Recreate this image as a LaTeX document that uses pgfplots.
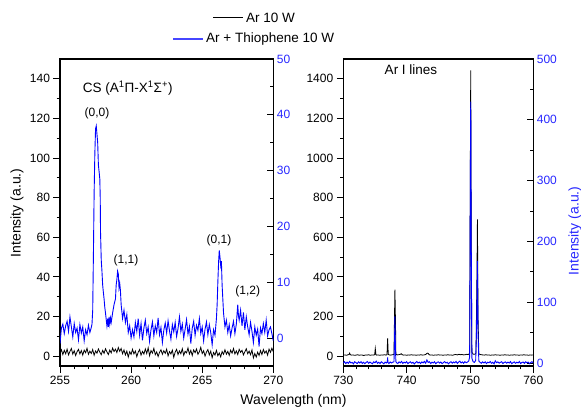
\documentclass[border=0pt]{standalone}
\usepackage{fontspec}
\setmainfont{Liberation Sans}
\usepackage{pgfplots}
\pgfplotsset{compat=1.18}
\definecolor{lineblue}{RGB}{0,0,255}
\definecolor{labblue}{RGB}{40,40,255}
\definecolor{legblue}{RGB}{70,70,255}

\pgfplotsset{
  base/.style={
    scale only axis, anchor=south west,
    tick label style={font=\fontsize{12}{14}\selectfont},
    /pgf/number format/assume math mode=true,
    /pgf/number format/1000 sep={},
    axis line style={line width=1.1pt},
    every tick/.style={black, line width=0.9pt},
    major tick length=6.5pt, minor tick length=3.3pt,
    scaled ticks=false,
  },
}

\begin{document}
\begin{tikzpicture}
\useasboundingbox (0,0) rectangle (581pt,410pt);

% ===== left panel, main (black) =====
\begin{axis}[base, at={(60pt,44pt)}, width=213.3pt, height=307pt,
  xmin=255, xmax=270, ymin=-5, ymax=150,
  xtick={255,260,265,270}, minor x tick num=4,
  ytick={0,20,...,140}, minor y tick num=1,
  tick align=outside, xtick pos=left, ytick pos=left,
]
\addplot[color=black, line width=0.8pt, mark=none] table {
255.0 1.5
255.1 3.2
255.2 0.8
255.3 2.9
255.4 1.2
255.5 3.5
255.6 0.6
255.7 2.4
255.8 3.8
255.9 1.0
256.0 2.7
256.1 0.3
256.2 2.2
256.3 3.4
256.4 1.1
256.5 2.8
256.6 0.5
256.7 3.0
256.8 1.7
256.9 3.9
257.0 0.9
257.1 2.5
257.2 1.3
257.3 3.3
257.4 0.4
257.5 2.6
257.6 1.5
257.7 3.6
257.8 2.0
257.9 0.7
258.0 2.9
258.1 1.4
258.2 3.7
258.3 2.1
258.4 0.8
258.5 3.0
258.6 1.6
258.7 4.0
258.8 2.3
258.9 3.5
259.0 1.8
259.1 4.3
259.2 2.4
259.3 3.8
259.4 1.2
259.5 3.1
259.6 0.6
259.7 2.5
259.8 -0.5
259.9 2.2
260.0 0.9
260.1 3.4
260.2 1.1
260.3 2.6
260.4 -0.3
260.5 2.0
260.6 3.3
260.7 0.5
260.8 2.4
260.9 1.0
261.0 3.6
261.1 1.3
261.2 4.2
261.3 0.2
261.4 2.8
261.5 1.5
261.6 3.9
261.7 0.7
261.8 2.1
261.9 -0.2
262.0 1.9
262.1 3.2
262.2 0.9
262.3 2.7
262.4 1.4
262.5 3.5
262.6 0.1
262.7 2.3
262.8 1.1
262.9 3.0
263.0 -0.6
263.1 2.0
263.2 3.4
263.3 0.8
263.4 2.6
263.5 1.2
263.6 3.7
263.7 0.4
263.8 2.4
263.9 1.6
264.0 4.1
264.1 1.0
264.2 2.9
264.3 0.3
264.4 3.1
264.5 1.7
264.6 3.6
264.7 0.9
264.8 2.2
264.9 4.4
265.0 1.3
265.1 2.7
265.2 0.0
265.3 2.1
265.4 3.3
265.5 0.6
265.6 2.5
265.7 -0.8
265.8 1.8
265.9 0.5
266.0 2.9
266.1 0.2
266.2 1.6
266.3 -0.4
266.4 2.3
266.5 0.9
266.6 3.2
266.7 1.0
266.8 2.4
266.9 0.4
267.0 3.0
267.1 1.5
267.2 3.8
267.3 1.1
267.4 2.6
267.5 0.8
267.6 3.4
267.7 1.9
267.8 2.9
267.9 0.6
268.0 2.2
268.1 3.7
268.2 1.2
268.3 2.5
268.4 0.7
268.5 3.1
268.6 -0.9
268.7 1.3
268.8 -0.5
268.9 2.0
269.0 0.3
269.1 2.8
269.2 0.8
269.3 3.3
269.4 1.5
269.5 2.6
269.6 0.5
269.7 3.5
269.8 1.9
269.9 4.0
270.0 2.2
};
\end{axis}

% ===== left panel, overlay (blue) =====
\begin{axis}[base, at={(60pt,44pt)}, width=213.3pt, height=307pt,
  xmin=255, xmax=270, ymin=-5, ymax=50,
  xtick=\empty, minor xtick={257.5,260,262.5,265,267.5},
  ytick={0,10,...,50}, minor y tick num=1,
  tick align=inside, xtick pos=right, ytick pos=right, yticklabel pos=right,
  y tick label style={text=labblue},
]
\addplot[color=lineblue, line width=0.9pt, mark=none] table {
255.0 -1.0
255.1 1.8
255.2 2.5
255.3 0.8
255.4 2.2
255.5 3.0
255.6 1.2
255.7 3.8
255.8 2.0
255.9 0.2
256.0 2.6
256.1 1.0
256.2 1.8
256.3 -0.3
256.4 2.4
256.5 0.9
256.6 2.0
256.7 -0.5
256.8 1.5
256.9 0.6
257.0 2.3
257.1 1.0
257.2 1.9
257.25 2.5
257.3 5.0
257.35 15
257.4 26
257.45 33
257.5 37.5
257.55 38.0
257.6 36.5
257.65 35.0
257.7 31
257.75 29.8
257.8 28.5
257.83 25
257.85 19
257.9 14
257.95 12
258.0 9.5
258.05 8.2
258.1 7.0
258.15 5.5
258.2 4.5
258.3 2.2
258.35 3.5
258.4 2.0
258.45 3.8
258.5 2.5
258.55 3.6
258.6 2.8
258.7 4.5
258.8 6.0
258.9 7.0
258.95 9.5
259.0 10.5
259.05 12.0
259.1 11.5
259.15 9.0
259.2 9.8
259.25 8.5
259.3 6.0
259.4 3.5
259.5 5.0
259.6 2.8
259.7 4.2
259.8 1.0
259.9 2.2
260.0 0.0
260.1 1.5
260.2 0.2
260.3 2.8
260.4 1.2
260.5 3.5
260.6 0.5
260.7 2.6
260.8 -0.4
260.9 1.8
261.0 3.2
261.1 0.8
261.2 2.0
261.3 -0.6
261.4 1.5
261.5 2.9
261.6 0.4
261.7 2.2
261.8 1.0
261.9 3.6
262.0 0.6
262.1 1.9
262.2 -0.8
262.3 1.4
262.4 2.7
262.5 0.9
262.6 3.1
262.7 1.3
262.8 -0.2
262.9 2.4
263.0 1.1
263.1 2.8
263.2 0.3
263.3 1.7
263.4 3.8
263.5 1.2
263.6 2.5
263.7 0.0
263.8 1.6
263.9 3.3
264.0 0.7
264.1 2.1
264.2 -1.0
264.3 1.8
264.4 3.0
264.5 0.5
264.6 2.3
264.7 1.4
264.8 3.5
264.9 0.8
265.0 2.0
265.1 -0.5
265.2 1.6
265.3 2.9
265.4 0.6
265.5 2.4
265.6 1.0
265.7 -1.2
265.8 1.5
265.9 0.5
266.0 3.5
266.05 6.0
266.1 10.0
266.15 13.5
266.2 15.7
266.25 14.5
266.3 13.0
266.35 13.8
266.4 9.5
266.45 7.0
266.5 4.5
266.6 2.0
266.7 3.2
266.8 1.0
266.9 2.4
267.0 0.4
267.1 1.8
267.2 3.0
267.3 0.8
267.4 2.5
267.5 6.0
267.55 4.0
267.6 3.2
267.7 5.0
267.8 2.2
267.9 4.6
268.0 1.5
268.1 3.8
268.2 2.0
268.3 0.6
268.4 2.8
268.5 1.2
268.6 -0.8
268.7 2.0
268.8 0.5
268.9 1.6
269.0 -1.5
269.1 1.8
269.2 0.8
269.3 2.6
269.4 1.0
269.5 3.2
269.6 0.4
269.7 1.5
269.8 2.0
269.9 0.8
270.0 -0.5
};
\end{axis}

% ===== right panel, main (black) =====
\begin{axis}[base, at={(343.3pt,44pt)}, width=190pt, height=307pt,
  xmin=730, xmax=760, ymin=-50, ymax=1500,
  xtick={730,740,750,760}, minor x tick num=4,
  ytick={0,200,...,1400}, minor y tick num=1,
  tick align=outside, xtick pos=left, ytick pos=left,
]
\addplot[color=black, line width=0.8pt, mark=none] table {
730.00 5
730.25 6
730.50 4
730.75 7
730.90 8
731.00 15
731.10 7
731.25 5
731.50 6
731.75 4
732.00 5
732.25 7
732.50 4
732.75 6
733.00 5
733.25 3
733.50 6
733.75 5
734.00 7
734.25 4
734.50 6
734.75 5
734.95 7
735.05 38
735.15 8
735.25 5
735.50 6
735.75 4
736.00 6
736.25 5
736.50 7
736.75 5
736.90 8
737.00 89
737.10 9
737.25 6
737.50 5
737.75 7
738.00 8
738.05 120
738.15 336
738.25 150
738.30 10
738.50 6
738.75 7
739.00 9
739.15 12
739.30 7
739.50 5
739.75 6
740.00 4
740.25 6
740.50 5
740.75 7
741.00 5
741.25 6
741.50 4
741.75 6
742.00 5
742.25 7
742.50 5
742.75 6
743.00 8
743.25 15
743.40 14
743.55 7
743.75 5
744.00 6
744.25 4
744.50 6
744.75 5
745.00 7
745.25 5
745.50 6
745.75 4
746.00 6
746.25 5
746.50 7
746.75 5
747.00 6
747.25 4
747.50 7
747.75 8
748.00 6
748.25 9
748.50 7
748.75 8
749.00 6
749.25 7
749.50 9
749.75 8
749.95 15
750.05 900
750.12 1442
750.20 600
750.30 20
750.50 10
750.75 9
750.95 15
751.10 400
751.18 690
751.27 200
751.40 12
751.60 8
751.80 7
752.00 6
752.25 5
752.50 7
752.75 5
753.00 6
753.25 4
753.50 6
753.75 5
754.00 7
754.25 5
754.50 6
754.75 4
755.00 6
755.25 5
755.50 7
755.75 5
756.00 6
756.25 4
756.50 6
756.75 5
757.00 7
757.25 5
757.50 6
757.75 4
758.00 6
758.25 5
758.50 7
758.75 5
759.00 6
759.25 4
759.50 6
759.75 5
760.00 6
};
\end{axis}

% ===== right panel, overlay (blue) =====
\begin{axis}[base, at={(343.3pt,44pt)}, width=190pt, height=307pt,
  xmin=730, xmax=760, ymin=-5, ymax=500,
  xtick=\empty, minor xtick={735,740,745,750,755},
  ytick={0,100,...,500}, minor y tick num=1,
  tick align=inside, xtick pos=right, ytick pos=right, yticklabel pos=right,
  y tick label style={text=labblue},
]
\addplot[color=lineblue, line width=0.9pt, mark=none] table {
730.0 0
730.2 2
730.4 -1
730.6 1.5
730.8 -0.5
731.0 2.5
731.2 0
731.4 1
731.6 -1.5
731.8 2
732.0 0.5
732.2 -1
732.4 1.8
732.6 0
732.8 2.2
733.0 -0.8
733.2 1.2
733.4 -1.2
733.6 0.8
733.8 2.4
734.0 -0.5
734.2 1.5
734.4 0
734.6 -1.4
734.8 1.9
735.0 0.3
735.2 3
735.4 -0.6
735.6 1.2
735.8 -1
736.0 2
736.2 0.4
736.4 -1.5
736.6 1.4
736.8 0
736.95 2
737.0 9
737.05 1
737.2 -1
737.4 1.6
737.6 0
737.8 1.2
738.0 2
738.1 40
738.15 76.5
738.22 30
738.3 2
738.4 0.5
738.6 -1
738.8 1.8
739.0 0.2
739.2 2.5
739.4 -0.8
739.6 1.4
739.8 0
740.0 2.2
740.2 -1.2
740.4 0.8
740.6 1.9
740.8 -0.4
741.0 1.2
741.2 -1.6
741.4 0.6
741.6 2.4
741.8 0
742.0 1.4
742.2 -0.9
742.4 1.7
742.6 0.1
742.8 2.6
743.0 -0.5
743.2 5
743.4 0.8
743.6 2
743.8 -1
744.0 1.3
744.2 0
744.4 2.1
744.6 -1.3
744.8 0.9
745.0 1.8
745.2 -0.2
745.4 1.5
745.6 -1.1
745.8 0.6
746.0 2.3
746.2 0
746.4 1.1
746.6 -1.4
746.8 0.7
747.0 2
747.2 -0.3
747.4 1.6
747.6 0.2
747.8 2.5
748.0 -0.7
748.2 1.4
748.4 3
748.6 0
748.8 1.7
749.0 -0.5
749.2 2.2
749.4 0.4
749.6 1.5
749.8 3
749.95 10
750.05 280
750.12 430
750.20 200
750.30 8
750.5 2
750.7 1
750.9 4
751.05 60
751.18 168
751.27 50
751.4 3
751.6 1
751.8 -0.5
752.0 1.8
752.2 0
752.4 2
752.6 -1
752.8 1.3
753.0 0.2
753.2 2.4
753.4 -0.6
753.6 1.2
753.8 -1.5
754.0 3.5
754.2 0.5
754.4 1.8
754.6 -0.4
754.8 1
755.0 2
755.2 -1
755.4 0.9
755.6 1.8
755.8 -0.3
756.0 1.4
756.2 0
756.4 2.3
756.6 -1.2
756.8 0.6
757.0 1.7
757.2 -0.5
757.4 1.2
757.6 0
757.8 2.4
758.0 -1
758.2 0.8
758.4 1.5
758.6 -0.6
758.8 2
759.0 0.3
759.2 1.4
759.4 -1.1
759.6 0.8
759.8 2.1
760.0 0
};
\end{axis}

% ===== legend (drawn as plain lines and text) =====
\draw[black, line width=1pt] (213pt,392pt) -- (243pt,392pt);
\node[anchor=west, font=\fontsize{13.5}{15}\selectfont, inner sep=0pt] at (246pt,392pt) {Ar 10 W};
\fill[legblue] (173pt,370.2pt) rectangle (203pt,371.8pt);
\node[anchor=west, font=\fontsize{13.5}{15}\selectfont, inner sep=0pt] at (206pt,371pt) {Ar + Thiophene 10 W};

% ===== labels and annotations =====
\node[rotate=90, font=\fontsize{14}{16}\selectfont] at (17pt,197pt) {Intensity (a.u.)};
\node[rotate=90, font=\fontsize{14}{16}\selectfont, text=labblue] at (575pt,179pt) {Intensity (a.u.)};
\node[font=\fontsize{14}{16}\selectfont] at (293.5pt,9pt) {Wavelength (nm)};
\node[anchor=west, font=\fontsize{13.5}{15}\selectfont, inner sep=0pt] at (82.7pt,322pt) {CS (A\textsuperscript{1}Π-X\textsuperscript{1}Σ\textsuperscript{+})};
\node[font=\fontsize{12}{14}\selectfont] at (97pt,296.5pt) {(0,0)};
\node[font=\fontsize{12}{14}\selectfont] at (126pt,150pt) {(1,1)};
\node[font=\fontsize{12}{14}\selectfont] at (219pt,170pt) {(0,1)};
\node[font=\fontsize{12}{14}\selectfont] at (247.7pt,118.3pt) {(1,2)};
\node[font=\fontsize{13.5}{15}\selectfont] at (411pt,340pt) {Ar I lines};
\end{tikzpicture}
\end{document}
